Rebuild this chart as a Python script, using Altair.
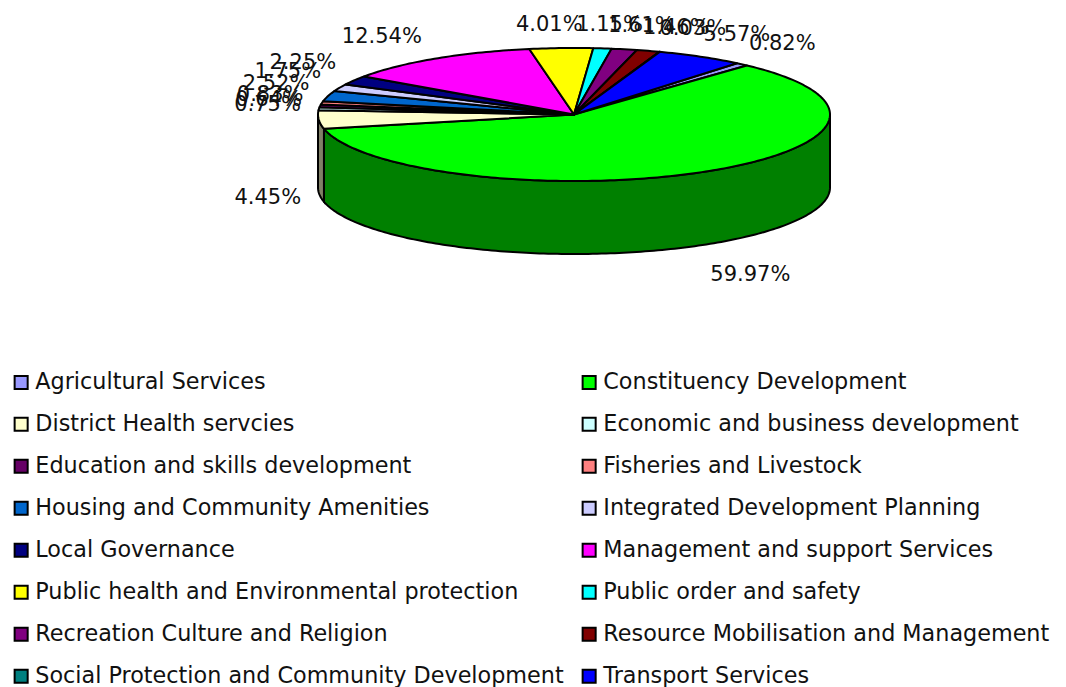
import math
import altair as alt

names = ["Agricultural Services", "Constituency Development", "District Health servcies",
         "Economic and business development", "Education and skills development", "Fisheries and Livestock",
         "Housing and Community Amenities", "Integrated Development Planning", "Local Governance",
         "Management and support Services", "Public health and Environmental protection", "Public order and safety",
         "Recreation Culture and Religion", "Resource Mobilisation and Management",
         "Social Protection and Community Development", "Transport Services"]
values = [0.82, 59.97, 4.45, 0.75, 0.64, 0.83, 2.52, 1.75, 2.25, 12.54, 4.01, 1.15, 1.61, 1.46, 0.03, 5.57]
colors = ["#9999FF", "#00FF00", "#FFFFCC", "#CCFFFF", "#660066", "#FF8080", "#0066CC", "#CCCCFF",
          "#000080", "#FF00FF", "#FFFF00", "#00FFFF", "#800080", "#800000", "#008080", "#0000FF"]
side_colors = ["#4C4C80", "#008000", "#808066", "#668080", "#330033", "#804040", "#003366", "#666680",
               "#000040", "#800080", "#808000", "#008080", "#400040", "#400000", "#004040", "#000080"]

CX, CY, RX, RY, DEPTH = 574.0, 114.5, 256.0, 66.5, 73.0
START = 50.45


def rim(t):
    r = math.radians(t)
    return [CX + RX * math.cos(r), CY - RY * math.sin(r)]


def arc(t0, t1):
    n = max(2, int(abs(t1 - t0)) + 2)
    return [rim(t0 + (t1 - t0) * i / (n - 1)) for i in range(n)]


total = sum(values)
slices, walls, labels = [], [], []
t = START
for name, v, side in zip(names, values, side_colors):
    t1 = t - v / total * 360
    ring = [[CX, CY]] + arc(t, t1) + [[CX, CY]]
    slices.append({"type": "Feature", "properties": {"name": name},
                   "geometry": {"type": "Polygon", "coordinates": [ring]}})
    # visible outer wall: the part of the rim in the lower half of the ellipse
    for k in (0, -360):
        lo, hi = max(t1, -180 + k + 0), min(t, 0 + k)
        if hi > lo:
            top = arc(hi, lo)
            bottom = [[x, y + DEPTH] for x, y in reversed(top)]
            walls.append({"type": "Feature", "properties": {"side": side},
                          "geometry": {"type": "Polygon", "coordinates": [top + bottom + [top[0]]]}})
    mid = math.radians((t + t1) / 2)
    c, s = math.cos(mid), math.sin(mid)
    text = f"{v:.2f}%"
    half_w = 6.6 * len(text)
    lx = CX + 274 * c + half_w * max(-1, min(1, 3 * c)) - 6 * max(s, 0)
    lift = 10 if s > 0 else 18
    ly = CY - 80 * s - lift * max(-1, min(1, 3 * s)) + (DEPTH if s < 0 else 0)
    labels.append({"lon": lx, "lat": ly, "text": text})
    t = t1

proj = alt.Projection(type="identity", scale=1, translate=[-8, -8], reflectY=False)

wall_layer = alt.Chart(alt.Data(values=walls)).mark_geoshape(stroke="black", strokeWidth=2).encode(
    fill=alt.Fill("properties.side:N", scale=None, legend=None)
).project(**proj.to_dict())

slice_layer = alt.Chart(alt.Data(values=slices)).mark_geoshape(
    stroke="black", strokeWidth=2, strokeJoin="round"
).encode(
    fill=alt.Fill(
        "properties.name:N",
        scale=alt.Scale(domain=names, range=colors),
        legend=alt.Legend(
            orient="none", legendX=2, legendY=363, columns=2, title=None, direction="horizontal",
            symbolType="square", symbolSize=170, symbolStrokeColor="black", symbolStrokeWidth=2,
            labelFont="DejaVu Sans", labelFontSize=22.3, labelColor="#111111", labelLimit=700,
            rowPadding=19, columnPadding=14, labelOffset=3, gridAlign="each",
        ),
    )
).project(**proj.to_dict())

text_layer = alt.Chart(alt.Data(values=labels)).mark_text(
    font="DejaVu Sans", fontSize=21, color="#111111", baseline="middle", align="center"
).encode(longitude="lon:Q", latitude="lat:Q", text="text:N").project(**proj.to_dict())

chart = alt.layer(wall_layer, slice_layer, text_layer).resolve_scale(fill="independent").properties(
    width=1050, height=679, padding=0, autosize=alt.AutoSizeParams(type="none")
).configure_view(stroke=None)

chart.save("out.html", embed_options={"renderer": "svg", "actions": False})
